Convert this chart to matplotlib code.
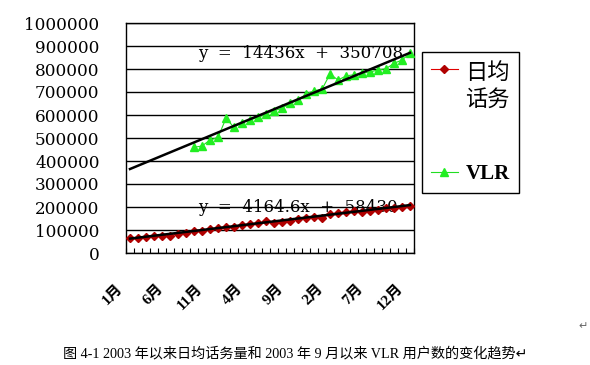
import matplotlib
matplotlib.use("Agg")
import matplotlib.pyplot as plt
from matplotlib.transforms import ScaledTranslation

plt.rcParams['font.family'] = ['DejaVu Serif', 'Noto Sans CJK SC']

# ---- data ----
months = ["1月", "2月", "3月", "4月", "5月", "6月", "7月", "8月", "9月", "10月", "11月", "12月",
          "1月", "2月", "3月", "4月", "5月", "6月", "7月", "8月", "9月", "10月", "11月", "12月",
          "1月", "2月", "3月", "4月", "5月", "6月", "7月", "8月", "9月", "10月", "11月", "12月"]
label_step = 5

daily_traffic = [65200, 65200, 68700, 73000, 75500, 74500, 83900, 87800, 94300, 97800,
                 102200, 107400, 113900, 114300, 120400, 126100, 128300, 139100, 132000, 136200,
                 140600, 146400, 150700, 157900, 153600, 168100, 172500, 179700, 182600, 179700,
                 182600, 187000, 194200, 197100, 201400, 205800]

vlr_start = 8
vlr_users = [459500, 465200, 491300, 502900, 585500, 546400, 566700, 578300, 589900, 604300,
             618800, 629000, 650700, 665200, 691300, 705800, 711600, 778300, 752200, 769600,
             775400, 781200, 787000, 795700, 801400, 824600, 839100, 868100]

trend_traffic = (4164.6, 58430)
trend_vlr = (14436, 350708)

series_names = ["日均\n话务", "VLR"]
caption = "图 4-1 2003 年以来日均话务量和 2003 年 9 月以来 VLR 用户数的变化趋势"

# ---- figure ----
W, H = 590, 365
fig = plt.figure(figsize=(W / 100, H / 100), dpi=100)
L, R, T, B = 126, 414, 23, 253
ax = fig.add_axes([L / W, 1 - B / H, (R - L) / W, (B - T) / H])

n = len(months)
x_all = list(range(n))
x_vlr = list(range(vlr_start, vlr_start + len(vlr_users)))

ax.plot(x_all, daily_traffic, color='#E00000', lw=0.8, marker='D', ms=4.3,
        mfc='#B00000', mec='#B00000', zorder=3, label=series_names[0])
ax.plot(x_vlr, vlr_users, color='#22DD22', lw=0.8, marker='^', ms=5.5,
        mfc='#22EE22', mec='#22EE22', zorder=3, label=series_names[1])

xs = [x_all[0], x_all[-1]]
ax.plot(xs, [trend_traffic[0] * (x + 1) + trend_traffic[1] for x in xs],
        color='black', lw=1.8, zorder=4)
ax.plot(xs, [trend_vlr[0] * (x + 1) + trend_vlr[1] for x in xs],
        color='black', lw=1.8, zorder=4)

ax.set_xlim(-0.5, n - 0.5)
ax.set_ylim(0, 1000000)
ax.set_yticks(range(0, 1000001, 100000))
ax.set_yticklabels([str(v) for v in range(0, 1000001, 100000)], fontsize=12.2,
                   family='DejaVu Serif')
ax.tick_params(axis='y', length=0, pad=19)
ax.yaxis.grid(True, color='black', lw=1)
ax.set_axisbelow(True)
for s in ax.spines.values():
    s.set_color('black')
    s.set_linewidth(1)

# x ticks: minor at category boundaries, labels every 5 categories
ax.set_xticks([i - 0.5 for i in range(n + 1)], minor=True)
ax.tick_params(axis='x', which='minor', direction='in', length=3.6, width=0.8)
ticks = list(range(0, n, label_step))
ax.set_xticks(ticks)
ax.set_xticklabels([months[i] for i in ticks], rotation=45, ha='right', va='center',
                   rotation_mode='anchor', fontsize=11, fontweight='bold',
                   family=['Liberation Serif', 'Noto Sans CJK SC'])
ax.tick_params(axis='x', which='major', length=0, pad=24)
off = ScaledTranslation(-9 / 100, 0, fig.dpi_scale_trans)
for lab in ax.get_xticklabels():
    lab.set_transform(lab.get_transform() + off)

# trendline equations
ax.text((198 - L) / (R - L), (B - 53) / (B - T), "y  =  14436x  +  350708",
        transform=ax.transAxes, ha='left', va='center', fontsize=12,
        family='DejaVu Serif', zorder=2)
ax.text((198 - L) / (R - L), (B - 207) / (B - T), "y  =  4164.6x  +  58430",
        transform=ax.transAxes, ha='left', va='center', fontsize=12,
        family='DejaVu Serif', zorder=2)

# legend
leg = fig.legend(loc='upper left', bbox_to_anchor=(422 / W, 1 - 52 / H),
                 borderaxespad=0, frameon=True, fancybox=False, edgecolor='black',
                 framealpha=1, handlelength=1.2, handletextpad=0.35, labelspacing=2.4,
                 borderpad=0.4, prop={'family': ['Noto Sans CJK SC'], 'size': 16})
leg.get_frame().set_linewidth(1)
leg.get_texts()[1].set_fontproperties({'family': 'Liberation Serif', 'weight': 'bold', 'size': 15})
# align the first handle with the first line of its two-line label
first_item = leg._legend_handle_box.get_children()[0].get_children()[0]
first_item.align = 'top'

fig.text(295 / W, 1 - 354 / H, caption + "↵", ha='center', va='center', fontsize=10.2,
         family=['Liberation Serif', 'Noto Sans CJK SC', 'DejaVu Sans'])
fig.text(583 / W, 1 - 326 / H, "↵", ha='center', va='center', fontsize=8,
         color='#666666', family='DejaVu Sans')

fig.savefig("out.png", dpi=100)
